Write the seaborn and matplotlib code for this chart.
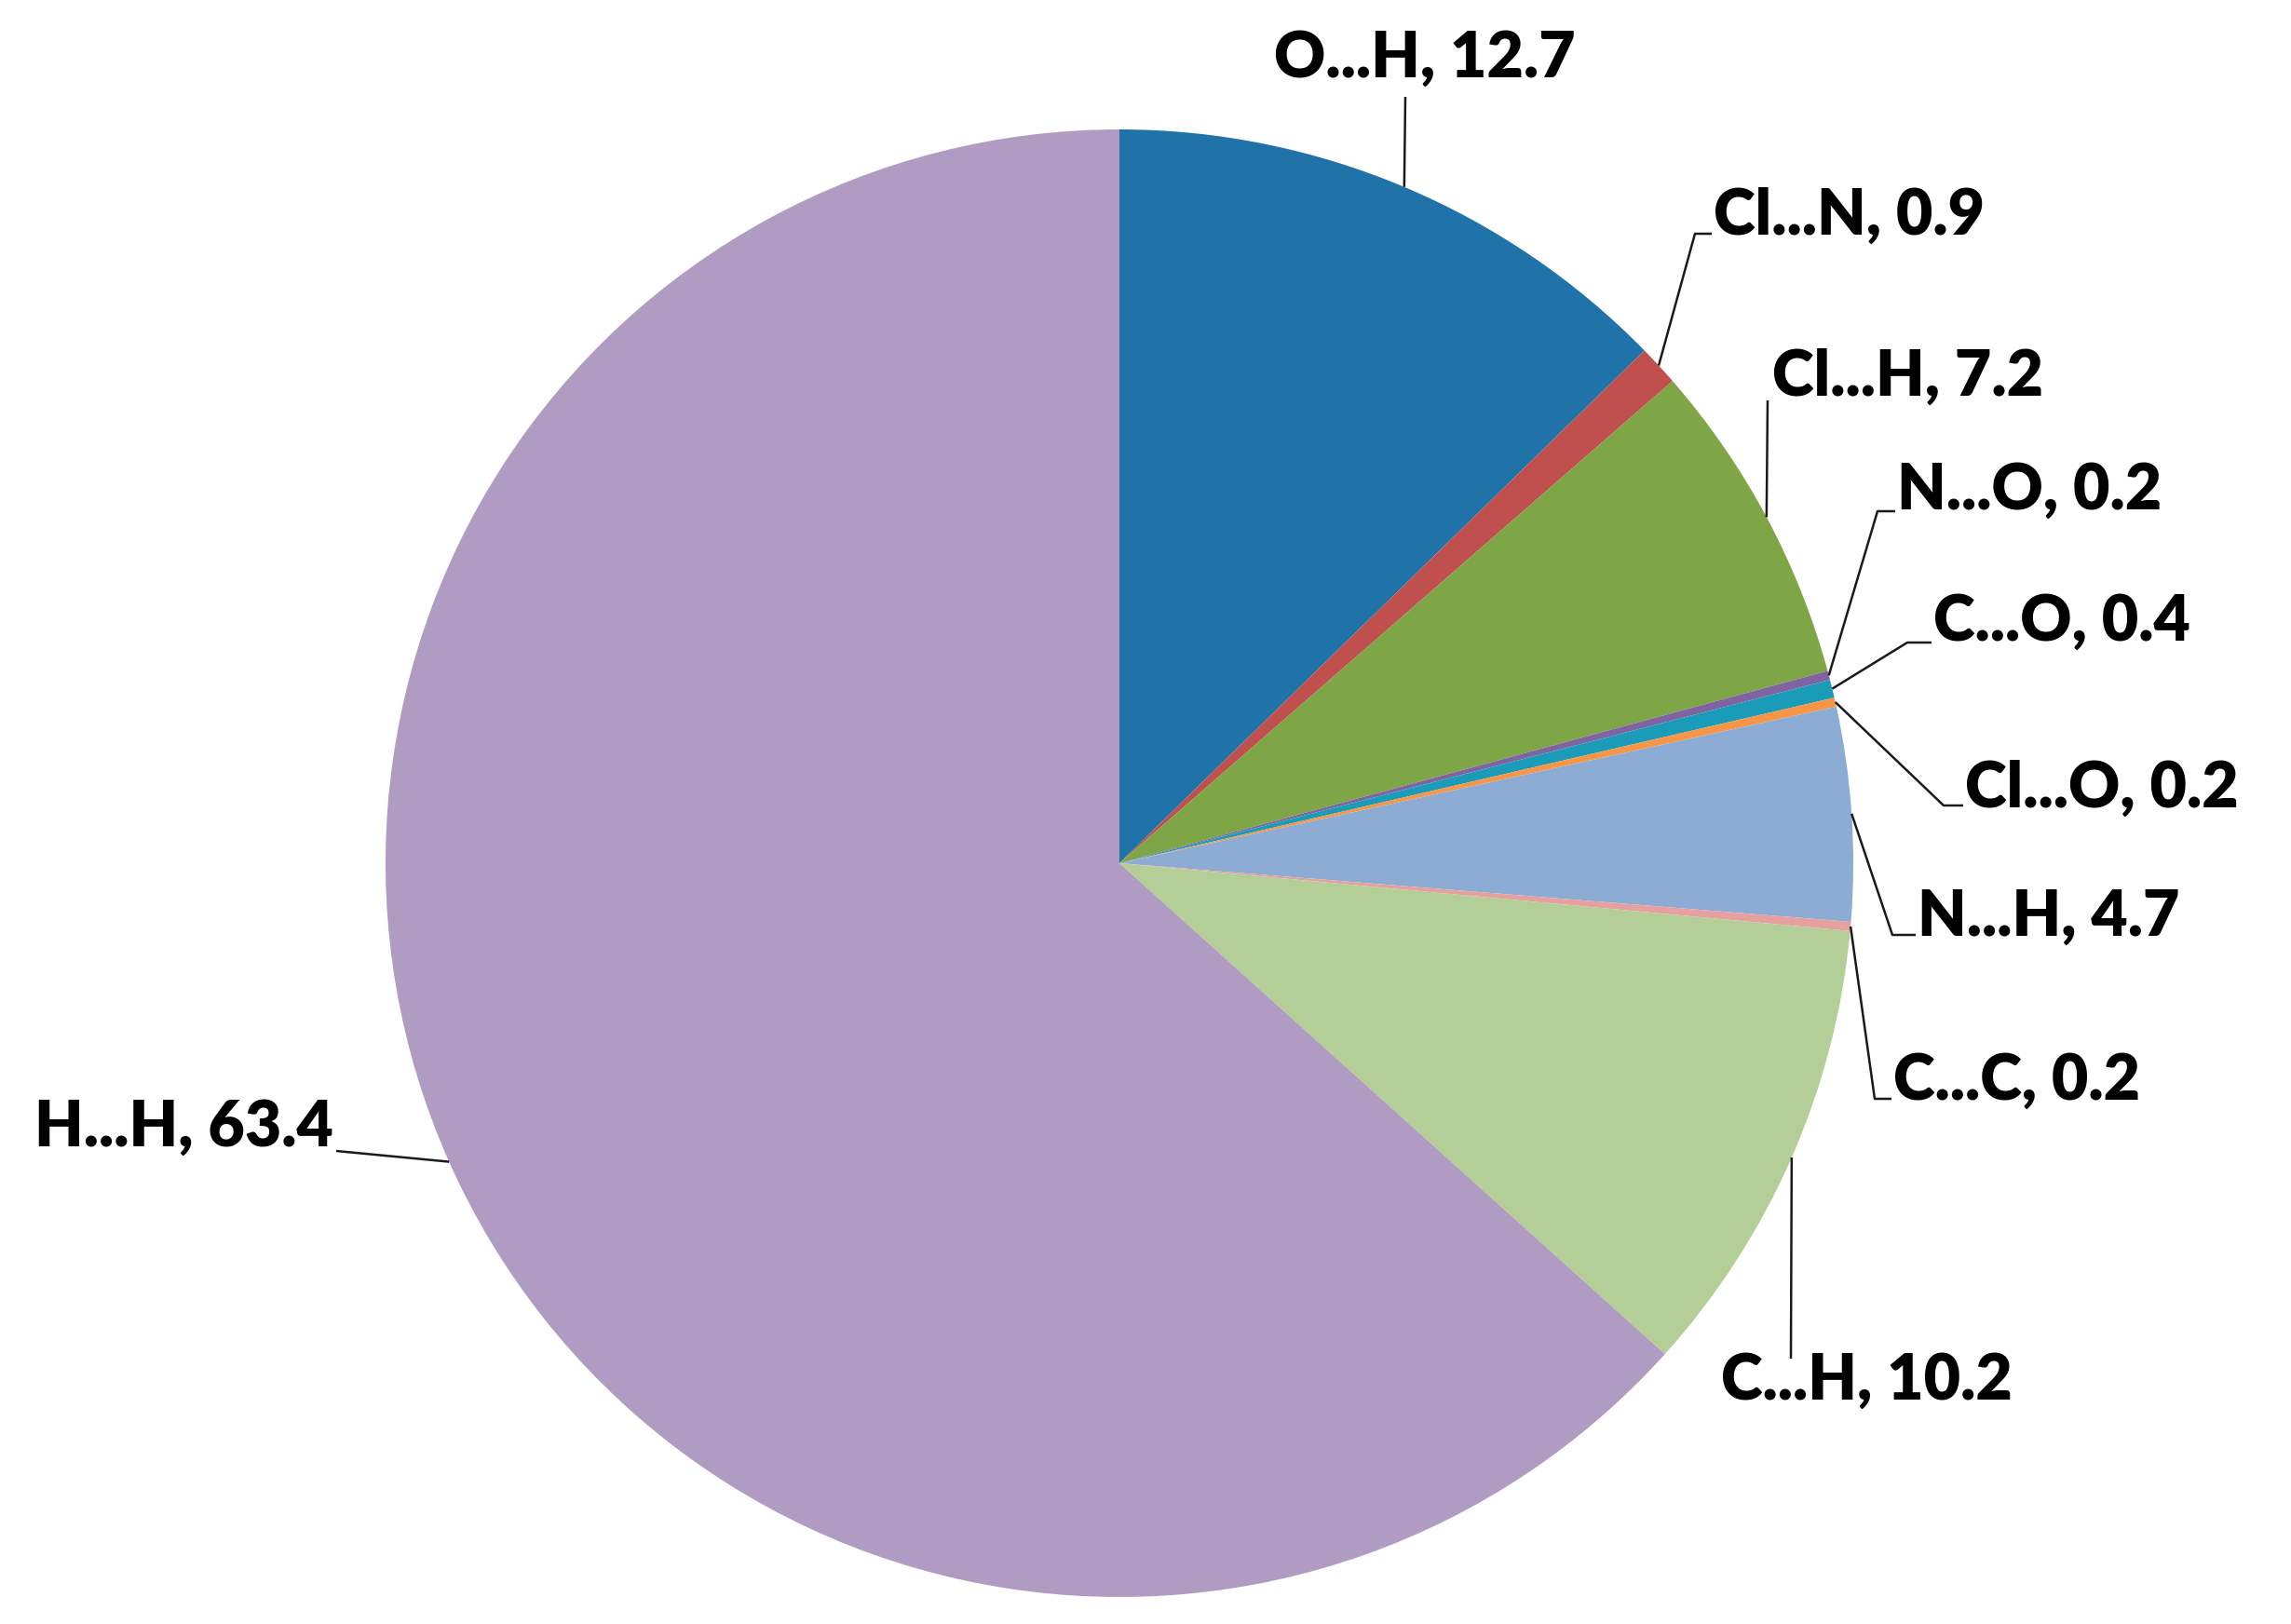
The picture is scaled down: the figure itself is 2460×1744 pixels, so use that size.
import numpy as np
import matplotlib
matplotlib.use("Agg")
import matplotlib.pyplot as plt
import seaborn as sns

sns.set_theme(style="white")
plt.rcParams["font.family"] = ["Lato", "DejaVu Sans"]

contacts = ["O...H", "Cl...N", "Cl...H", "N...O", "C...O", "Cl...O",
            "N...H", "C...C", "C...H", "H...H"]
percent = [12.7, 0.9, 7.2, 0.2, 0.4, 0.2, 4.7, 0.2, 10.2, 63.4]
colors = ["#1F73A8", "#C0504D", "#7EA546", "#8064A2", "#1A9BB8", "#F79646",
          "#8DACD3", "#E6A0A0", "#B3CE96", "#B09CC2"]

# label layout in figure pixels (top-left origin): text anchor, alignment, leader hook points
W, H = 2460, 1744
CX, CY, R = 1202, 927, 788
label_pos = {
    "O...H": ((1530, 63), "center", [(1509, 104)]),
    "Cl...N": ((1840, 232), "left", [(1820, 251), (1838, 251)]),
    "Cl...H": ((1903, 405), "left", [(1898, 430)]),
    "N...O": ((2037, 527), "left", [(2016, 549), (2035, 549)]),
    "C...O": ((2076, 668), "left", [(2048, 690), (2074, 690)]),
    "Cl...O": ((2110, 847), "left", [(2087, 865), (2108, 865)]),
    "N...H": ((2059, 985), "left", [(2032, 1004), (2057, 1004)]),
    "C...C": ((2033, 1161), "left", [(2013, 1180), (2031, 1180)]),
    "C...H": ((2004, 1483), "center", [(1923, 1459)]),
    "H...H": ((358, 1211), "right", [(361, 1236)]),
}

fig = plt.figure(figsize=(24.6, 17.44), dpi=100)
ax = fig.add_axes([0, 0, 1, 1])

wedges, _ = ax.pie(percent, colors=colors, startangle=90, counterclock=False,
                   center=(CX, H - CY), radius=R,
                   wedgeprops=dict(linewidth=0, antialiased=True))
ax.set_xlim(0, W)
ax.set_ylim(0, H)
ax.set_aspect("equal")
ax.axis("off")

for w, name, val in zip(wedges, contacts, percent):
    ang = np.deg2rad((w.theta1 + w.theta2) / 2)
    ex = CX + R * np.cos(ang)
    ey = (H - CY) + R * np.sin(ang)
    (tx, ty), ha, hooks = label_pos[name]
    xs = [ex] + [p[0] for p in hooks]
    ys = [ey] + [H - p[1] for p in hooks]
    ax.plot(xs, ys, color="#1a1a1a", linewidth=1.8, solid_capstyle="butt")
    ax.text(tx, H - ty, f"{name}, {val}", ha=ha, va="center",
            fontsize=49, fontweight="heavy", color="black")

fig.savefig("out.png", dpi=100, facecolor="white")
